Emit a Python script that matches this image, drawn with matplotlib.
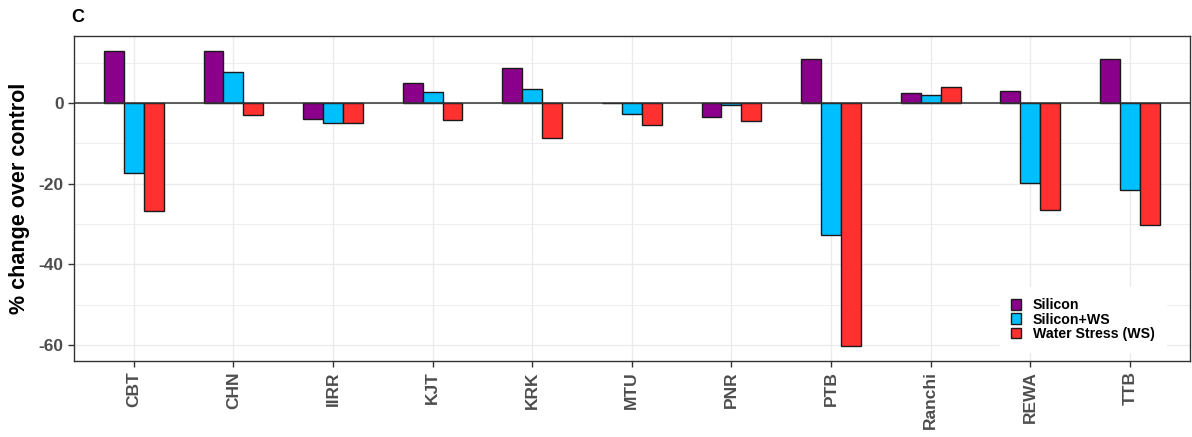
import matplotlib
matplotlib.use("Agg")
import matplotlib.pyplot as plt
import numpy as np
from matplotlib.patches import Patch

plt.rcParams["font.family"] = ["Liberation Sans", "DejaVu Sans"]

sites = ["CBT", "CHN", "IIRR", "KJT", "KRK", "MTU", "PNR", "PTB", "Ranchi", "REWA", "TTB"]
silicon = [13.0, 13.0, -3.9, 5.0, 8.6, 0.0, -3.4, 10.8, 2.5, 3.1, 10.8]
silicon_ws = [-17.3, 7.8, -4.9, 2.8, 3.5, -2.7, -0.6, -32.6, 2.1, -19.7, -21.6]
water_stress = [-26.8, -3.0, -4.9, -4.3, -8.6, -5.5, -4.5, -60.2, 4.0, -26.5, -30.2]
series_names = ["Silicon", "Silicon+WS", "Water Stress (WS)"]
colors = ["#8B008B", "#00BFFF", "#FF3030"]
yticks = [0, -20, -40, -60]

fig = plt.figure(figsize=(11.92, 4.37), dpi=100)
ax = fig.add_axes([0.0621, 0.174, 0.9359, 0.7436])

x = np.arange(1, len(sites) + 1)
w = 0.2
for i, (vals, c) in enumerate(zip([silicon, silicon_ws, water_stress], colors)):
    ax.bar(x + (i - 1) * w, vals, width=w, color=c, edgecolor="#1a1a1a", linewidth=1.0, zorder=3)

ax.axhline(0, color="#333333", linewidth=1.1, zorder=4)

ax.set_xlim(0.4, 11.6)
ax.set_ylim(-63.9, 16.6)
ax.set_xticks(x)
ax.set_xticklabels(sites, rotation=90, fontsize=12.5, fontweight="bold", color="#4D4D4D")
ax.set_yticks(yticks)
ax.set_yticklabels([str(t) for t in yticks], fontsize=12.5, fontweight="bold", color="#4D4D4D")
ax.set_yticks([10, -10, -30, -50], minor=True)
ax.tick_params(axis="y", which="minor", length=0)
ax.tick_params(axis="both", which="major", length=4, color="#333333", width=1)

ax.grid(True, which="major", color="#EBEBEB", linewidth=1.0, zorder=0)
ax.grid(True, which="minor", axis="y", color="#EBEBEB", linewidth=0.6, zorder=0)
ax.set_axisbelow(True)
for s in ax.spines.values():
    s.set_color("#333333")
    s.set_linewidth(1.0)

ax.set_ylabel("% change over control", fontsize=15.5, fontweight="bold", color="black", labelpad=6)

fig.text(0.060, 0.94, "C", fontsize=13, fontweight="bold", ha="left", va="bottom")

handles = [Patch(facecolor=c, edgecolor="#1a1a1a", label=n) for c, n in zip(colors, series_names)]
leg = ax.legend(handles=handles, loc="lower right", bbox_to_anchor=(0.985, 0.005),
                frameon=True, fancybox=False, framealpha=1, edgecolor="white",
                prop={"weight": "bold", "size": 10.2}, handlelength=0.7, handleheight=0.8,
                handletextpad=0.8, labelspacing=0.02, borderpad=0.8)
leg.set_zorder(5)

fig.savefig("out.png", dpi=100)
